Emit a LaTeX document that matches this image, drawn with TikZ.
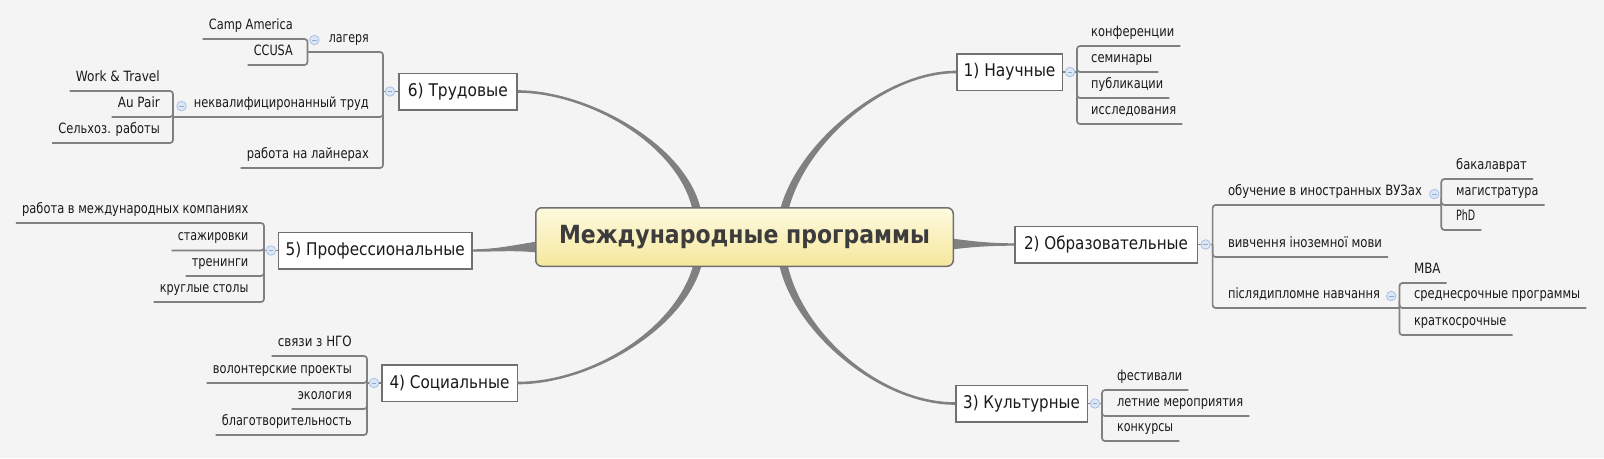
\documentclass[tikz,border=0pt]{standalone}
\usepackage{fontspec}
\usepackage{graphicx}
\setmainfont[FakeStretch=0.9]{DejaVu Sans}
\usetikzlibrary{calc}
\definecolor{bgc}{HTML}{F4F4F4}
\definecolor{ln}{HTML}{808080}
\definecolor{bd}{HTML}{707070}
\definecolor{txt}{HTML}{1A1A1A}
\definecolor{ctxt}{HTML}{3C3C3C}
\definecolor{ytop}{HTML}{FDFAE0}
\definecolor{ybot}{HTML}{F6E79C}
\definecolor{togf}{HTML}{DCE7F5}
\definecolor{togd}{HTML}{A9C0E0}
\definecolor{togm}{HTML}{8EA9D2}
\pgfdeclarelayer{bglayer}
\pgfdeclarelayer{linelayer}
\pgfsetlayers{bglayer,linelayer,main}
\newsavebox\fitbox
\newcommand\fitw[2]{\sbox\fitbox{#2}\pgfmathsetmacro\fsx{#1/\the\wd\fitbox}\scalebox{\fsx}[1]{\usebox\fitbox}}
\newcommand\rleaf[5]{\node[leafr] (#1) at ({#2-6},#4) {\fitw{#3}{#5}};}
\newcommand\lleaf[5]{\node[leafl] (#1) at ({#2+6},#4) {\fitw{#3}{#5}};}
\newcommand\taper[6]{\fill[ln] ($(#1)+(#5)$) .. controls +(#3) and +(#4) .. ($(#2)+(#6)$) -- ($(#2)-(#6)$) .. controls +(#4) and +(#3) .. ($(#1)-(#5)$) -- cycle;}
\begin{document}
\begin{tikzpicture}[x=1pt,y=-1pt,
  central/.style={rounded corners=6pt, draw=bd, line width=1.5pt, top color=ytop, bottom color=ybot,
    minimum width=417.5pt, minimum height=58.5pt, inner sep=0pt, text=ctxt,
    font=\bfseries\fontsize{25}{30}\selectfont},
  topic/.style={draw=bd, line width=1.5pt, fill=white, minimum height=36.5pt, inner sep=0pt,
    text=txt, font=\fontsize{17.5}{20}\selectfont},
  leaf/.style={inner xsep=6pt, inner ysep=5.5pt, text depth=4pt, text=txt,
    font=\fontsize{14.2}{16}\selectfont},
  leafr/.style={leaf, anchor=south west},
  leafl/.style={leaf, anchor=south east},
  conn/.style={draw=ln, line width=1.7pt, rounded corners=3pt},
  tog/.style={circle, draw=togd, fill=togf, line width=0.8pt, minimum size=9.5pt, inner sep=0pt,
    path picture={\draw[togm, line width=0.9pt] ([xshift=-2.3pt]path picture bounding box.center) -- ([xshift=2.3pt]path picture bounding box.center);}}
]
\begin{pgfonlayer}{bglayer}
\fill[bgc] (0,0) rectangle (1604,458);
\end{pgfonlayer}
\useasboundingbox (0,0) rectangle (1604,458);

% central and main topics
\node[central] (c) at (744.5,237) {\fitw{371}{Международные программы}};
\node[topic, minimum width=105.5pt] (t1) at (1009.5,72) {\fitw{92}{1) Научные}};
\node[topic, minimum width=182.5pt] (t2) at (1106,244.5) {\fitw{164}{2) Образовательные}};
\node[topic, minimum width=131.5pt] (t3) at (1021.5,403.5) {\fitw{116.6}{3) Культурные}};
\node[topic, minimum width=135.5pt] (t4) at (449.5,383) {\fitw{120}{4) Социальные}};
\node[topic, minimum width=193.8pt] (t5) at (375.2,250.5) {\fitw{179}{5) Профессиональные}};
\node[topic, minimum width=118.1pt] (t6) at (457.8,91.5) {\fitw{100}{6) Трудовые}};

% bracket coordinates
\coordinate (B1) at (1077,72);
\coordinate (B2) at (1212.6,244.5);
\coordinate (B2a) at (1441.3,205);
\coordinate (B2c) at (1399.4,308);
\coordinate (B3) at (1102,403.5);
\coordinate (B4) at (367,383);
\coordinate (B5) at (264,250.5);
\coordinate (B6) at (383,91.5);
\coordinate (B6a) at (307.5,52);
\coordinate (B6b) at (173,117);

% leaves of 1)
\rleaf{n1a}{1091}{83}{46}{конференции}
\rleaf{n1b}{1091}{61}{72}{семинары}
\rleaf{n1c}{1091}{72}{98}{публикации}
\rleaf{n1d}{1091}{85}{124}{исследования}
% leaves of 2)
\rleaf{n2a}{1227.8}{194}{205}{обучение в иностранных ВУЗах}
\rleaf{n2b}{1227.8}{154}{257}{вивчення іноземної мови}
\rleaf{n2c}{1227.8}{152}{308}{післядипломне навчання}
\rleaf{n2a1}{1456}{70.7}{179}{бакалаврат}
\rleaf{n2a2}{1456}{82.2}{205}{магистратура}
\rleaf{n2a3}{1456}{19}{230}{PhD}
\rleaf{n2c1}{1413.8}{26.5}{283}{MBA}
\rleaf{n2c2}{1413.8}{166.2}{308}{среднесрочные программы}
\rleaf{n2c3}{1413.8}{92.4}{335}{краткосрочные}
% leaves of 3)
\rleaf{n3a}{1117}{65}{390}{фестивали}
\rleaf{n3b}{1117}{126}{416}{летние мероприятия}
\rleaf{n3c}{1117}{56}{441}{конкурсы}
% leaves of 4)
\lleaf{n4a}{352}{74}{356}{связи з НГО}
\lleaf{n4b}{352}{139}{383}{волонтерские проекты}
\lleaf{n4c}{352}{54}{409}{экология}
\lleaf{n4d}{352}{130}{435}{благотворительность}
% leaves of 5)
\lleaf{n5a}{248.6}{226.2}{223}{работа в международных компаниях}
\lleaf{n5b}{248.6}{70.6}{250.5}{стажировки}
\lleaf{n5c}{248.6}{56.6}{276}{тренинги}
\lleaf{n5d}{248.6}{88.6}{302}{круглые столы}
% leaves of 6)
\lleaf{n6a}{369}{40}{52}{лагеря}
\lleaf{n6b}{369}{175}{117}{неквалифициронанный труд}
\lleaf{n6c}{369}{122}{168}{работа на лайнерах}
\lleaf{n6a1}{293}{84}{39}{Camp America}
\lleaf{n6a2}{293}{39}{65}{CCUSA}
\lleaf{n6b1}{160}{84}{91}{Work \& Travel}
\lleaf{n6b2}{160}{42}{117}{Au Pair}
\lleaf{n6b3}{160}{101.5}{143}{Сельхоз. работы}

% toggles
\node[tog] (o1) at (1070,72) {};
\node[tog] (o2) at (1205.6,244.5) {};
\node[tog] (o3) at (1095,403.5) {};
\node[tog] (o4) at (374,383) {};
\node[tog] (o5) at (271,250.5) {};
\node[tog] (o6) at (390,91.5) {};
\node[tog] (o2a) at (1434.3,194) {};
\node[tog] (o2c) at (1391.2,296) {};
\node[tog] (o6a) at (314.4,40) {};
\node[tog] (o6b) at (181.5,106) {};

\begin{pgfonlayer}{linelayer}
% tapered connectors from the central topic
\taper{$(c.north)+(-48,2)$}{t6.east}{-15,-65}{70,0}{-4.2,0}{0,1.3}
\taper{$(c.north)+(40,2)$}{t1.west}{18,-68}{-70,0}{4.2,0}{0,1.3}
\taper{$(c.south)+(-47,-2)$}{t4.east}{-18,65}{72,0}{4.2,0}{0,1.3}
\taper{$(c.south)+(39,-2)$}{t3.west}{15,68}{-75,0}{-4.2,0}{0,1.3}
\fill[ln] ($(c.west)+(6,4)$) .. controls +(-22,3) and +(25,0) .. ($(t5.east)+(0,-1.2)$) -- ($(t5.east)+(0,1.2)$) .. controls +(25,0) and +(-22,-3) .. ($(c.west)+(6,16)$) -- cycle;
\fill[ln] ($(c.east)+(-6,1)$) .. controls +(22,3) and +(-25,0) .. ($(t2.west)+(0,-1.2)$) -- ($(t2.west)+(0,1.2)$) .. controls +(-25,0) and +(22,-3) .. ($(c.east)+(-6,13)$) -- cycle;

% topic to bracket
\draw[conn] (t1.east) -- (B1);
\draw[conn] (t2.east) -- (B2);
\draw[conn] (t3.east) -- (B3);
\draw[conn] (t4.west) -- (B4);
\draw[conn] (t5.west) -- (B5);
\draw[conn] (t6.west) -- (B6);

% right brackets
\foreach \n in {n1a,n1b,n1c,n1d} \draw[conn] (B1) |- (\n.south east);
\draw[conn] (B2) |- (B2a);
\draw[conn] (B2) |- (n2b.south east);
\draw[conn] (B2) |- (B2c);
\foreach \n in {n2a1,n2a2,n2a3} \draw[conn] (B2a) |- (\n.south east);
\foreach \n in {n2c1,n2c2,n2c3} \draw[conn] (B2c) |- (\n.south east);
\foreach \n in {n3a,n3b,n3c} \draw[conn] (B3) |- (\n.south east);
% left brackets
\foreach \n in {n4a,n4b,n4c,n4d} \draw[conn] (B4) |- (\n.south west);
\foreach \n in {n5a,n5b,n5c,n5d} \draw[conn] (B5) |- (\n.south west);
\draw[conn] (B6) |- (B6a);
\draw[conn] (B6) |- (B6b);
\draw[conn] (B6) |- (n6c.south west);
\foreach \n in {n6a1,n6a2} \draw[conn] (B6a) |- (\n.south west);
\foreach \n in {n6b1,n6b2,n6b3} \draw[conn] (B6b) |- (\n.south west);
\end{pgfonlayer}
\end{tikzpicture}
\end{document}
